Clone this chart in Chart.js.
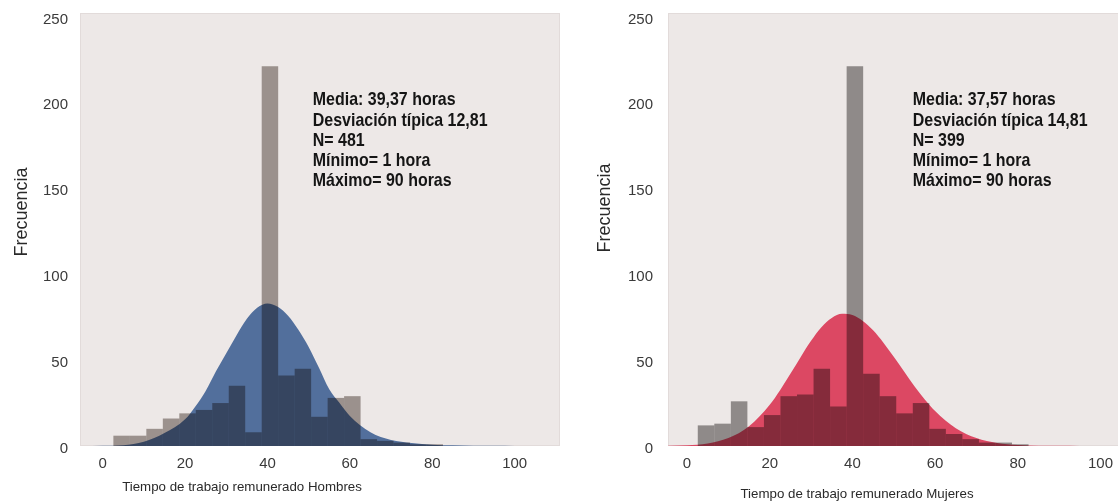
<!DOCTYPE html>
<html lang="es">
<head>
<meta charset="utf-8">
<title>Tiempo de trabajo remunerado</title>
<script src="https://cdn.jsdelivr.net/npm/chart.js@4.4.1/dist/chart.umd.min.js"></script>
<style>
  html, body { margin: 0; padding: 0; background: #fff; }
  body { width: 1118px; height: 504px; overflow: hidden; position: relative; }
  .panel { position: absolute; top: 0; }
  #panelHombres { left: 0; }
  #panelMujeres { left: 580px; }
</style>
</head>
<body>
<div class="panel" id="panelHombres"><canvas id="chartHombres" width="580" height="504"></canvas></div>
<div class="panel" id="panelMujeres"><canvas id="chartMujeres" width="600" height="504"></canvas></div>
<script>
// Histogram bin centres (hours), 4-hour bins
const binCenters = [4.6, 8.6, 12.6, 16.6, 20.6, 24.6, 28.6, 32.6, 36.6, 40.6,
                    44.6, 48.6, 52.6, 56.6, 60.6, 64.6, 68.6, 72.6, 76.6, 80.6];

// Frequencies per bin
const hombresCounts = [6, 6, 10, 16, 19, 21, 25, 35, 8, 221,
                       41, 45, 17, 28, 29, 4, 3, 2, 1, 1];
const mujeresCounts = [12, 13, 26, 11, 18, 29, 30, 45, 23, 221,
                       42, 29, 19, 25, 10, 7, 4, 2, 2, 1];

// Fitted normal curve, sampled along the hours axis
const curveHours = [-5, 0, 5, 10, 15, 20, 22.5, 25, 27.5, 30, 32.5, 35, 37.5, 40, 42.5,
                    45, 47.5, 50, 52.5, 55, 57.5, 60, 65, 70, 75, 80, 85, 90, 95, 100];
const hombresCurve = [0, 0.2, 0.5, 2.5, 7.5, 15.5, 23, 32, 43.5, 54, 64.5, 74, 80.5, 83, 81,
                      75.8, 67.6, 57.6, 45.5, 33, 25, 17.5, 8, 3.5, 1.8, 0.8, 0.4, 0.2, 0.1, 0];
const mujeresCurve = [0.1, 0.4, 1.5, 4.6, 11.5, 24, 32.5, 42, 51.8, 61.2, 69.1, 74.5, 76.9, 76.2, 72.8,
                      67.3, 60.1, 51.9, 43.3, 34.8, 27.1, 20.4, 10.4, 4.6, 1.8, 0.6, 0.2, 0.1, 0, 0];

// Axis ticks
const hourTicks = [0, 20, 40, 60, 80, 100];
const freqTicks = [0, 50, 100, 150, 200, 250];

const hombresNotes = ['Media: 39,37 horas', 'Desviación típica 12,81', 'N= 481',
                      'Mínimo= 1 hora', 'Máximo= 90 horas'];
const mujeresNotes = ['Media: 37,57 horas', 'Desviación típica 14,81', 'N= 399',
                      'Mínimo= 1 hora', 'Máximo= 90 horas'];

const TICK_FONT = { family: '"Liberation Sans", Arial, sans-serif', size: 15 };
const TICK_COLOR = '#3a3a3a';

// pale panel behind the plot area
const plotBackground = {
  id: 'plotBackground',
  beforeDraw(chart) {
    const { ctx, chartArea: a } = chart;
    ctx.save();
    ctx.fillStyle = '#ede8e7';
    ctx.fillRect(a.left, a.top, a.width, a.height);
    ctx.strokeStyle = '#e2dbda';
    ctx.lineWidth = 1;
    ctx.strokeRect(a.left + 0.5, a.top + 0.5, a.width - 1, a.height - 1);
    ctx.restore();
  }
};

// bars are multiplied over the curve so the overlap darkens
const multiplyBars = {
  id: 'multiplyBars',
  beforeDatasetDraw(chart, args) {
    if (args.meta.type !== 'bar') return;
    chart.ctx.save();
    chart.ctx.globalCompositeOperation = 'multiply';
  },
  afterDatasetDraw(chart, args) {
    if (args.meta.type !== 'bar') return;
    chart.ctx.restore();
  }
};

// axis titles and the summary block
const panelText = {
  id: 'panelText',
  afterDraw(chart, args, opts) {
    const { ctx, scales } = chart;
    ctx.save();
    ctx.fillStyle = '#2a2a2a';
    ctx.textAlign = 'center';
    ctx.textBaseline = 'middle';

    ctx.font = '13.3px "Liberation Sans", Arial, sans-serif';
    ctx.fillText(opts.xTitle, opts.xTitleAt[0], opts.xTitleAt[1]);

    ctx.save();
    ctx.font = '18px "Liberation Sans", Arial, sans-serif';
    ctx.translate(opts.yTitleAt[0], opts.yTitleAt[1]);
    ctx.rotate(-Math.PI / 2);
    ctx.fillText('Frecuencia', 0, 0);
    ctx.restore();

    // condensed bold lettering for the summary
    ctx.fillStyle = '#151515';
    ctx.font = 'bold 19px "Liberation Sans", Arial, sans-serif';
    ctx.textAlign = 'left';
    ctx.textBaseline = 'alphabetic';
    const nx = scales.x.getPixelForValue(opts.notesAt.x);
    const ny = scales.y.getPixelForValue(opts.notesAt.y);
    opts.notes.forEach((line, i) => {
      ctx.save();
      ctx.translate(nx, ny + i * 20.3);
      ctx.scale(0.84, 1);
      ctx.fillText(line, 0, 0);
      ctx.restore();
    });
    ctx.restore();
  }
};

function histogramChart(canvasId, p) {
  const ctx = document.getElementById(canvasId).getContext('2d');
  return new Chart(ctx, {
    type: 'bar',
    data: {
      datasets: [
        {
          type: 'line',
          data: curveHours.map((h, i) => ({ x: h, y: p.curve[i] })),
          fill: 'origin',
          backgroundColor: p.curveColor,
          borderColor: 'rgba(0,0,0,0)',
          borderWidth: 0,
          pointRadius: 0,
          cubicInterpolationMode: 'monotone',
          order: 2,
        },
        {
          type: 'bar',
          data: binCenters.map((c, i) => ({ x: c, y: p.counts[i] })),
          backgroundColor: p.barColor,
          borderWidth: 0,
          barPercentage: 1,
          categoryPercentage: 1,
          inflateAmount: 0,
          grouped: false,
          order: 1,
        },
      ],
    },
    options: {
      responsive: false,
      animation: false,
      layout: { padding: { top: 13, right: p.padRight, left: 0, bottom: 0 } },
      plugins: {
        legend: { display: false },
        tooltip: { enabled: false },
        panelText: {
          xTitle: p.xTitle, xTitleAt: p.xTitleAt, yTitleAt: p.yTitleAt,
          notes: p.notes, notesAt: p.notesAt,
        },
      },
      scales: {
        x: {
          type: 'linear',
          min: p.xMin,
          max: 111,
          offset: false,
          grid: { display: false, drawTicks: false },
          border: { display: false },
          ticks: { padding: 9, color: TICK_COLOR, font: TICK_FONT },
          afterBuildTicks(scale) { scale.ticks = hourTicks.map(v => ({ value: v })); },
          afterFit(scale) { scale.height = 58; },
        },
        y: {
          min: 0,
          max: 252,
          grid: { display: false, drawTicks: false },
          border: { display: false },
          ticks: { padding: p.yPad, labelOffset: 3, color: TICK_COLOR, font: TICK_FONT },
          afterBuildTicks(scale) { scale.ticks = freqTicks.map(v => ({ value: v })); },
          afterFit(scale) {
            scale.width = p.yWidth;
            scale.paddingTop = 0;
            scale.paddingBottom = 0;
          },
        },
      },
    },
    plugins: [plotBackground, multiplyBars, panelText],
  });
}

histogramChart('chartHombres', {
  counts: hombresCounts,
  curve: hombresCurve,
  curveColor: '#526f9c',
  barColor: '#a79f9c',
  xMin: -5.5,
  padRight: 20,
  yWidth: 80,
  yPad: 12,
  xTitle: 'Tiempo de trabajo remunerado Hombres',
  xTitleAt: [242, 487],
  yTitleAt: [22, 212],
  notes: hombresNotes,
  notesAt: { x: 51, y: 198.3 },
});

histogramChart('chartMujeres', {
  counts: mujeresCounts,
  curve: mujeresCurve,
  curveColor: '#dc4863',
  barColor: '#9a9897',
  xMin: -4.6,
  padRight: 34,
  yWidth: 88,
  yPad: 15,
  xTitle: 'Tiempo de trabajo remunerado Mujeres',
  xTitleAt: [277, 494],
  yTitleAt: [25, 208],
  notes: mujeresNotes,
  notesAt: { x: 54.6, y: 198.3 },
});
</script>
</body>
</html>
